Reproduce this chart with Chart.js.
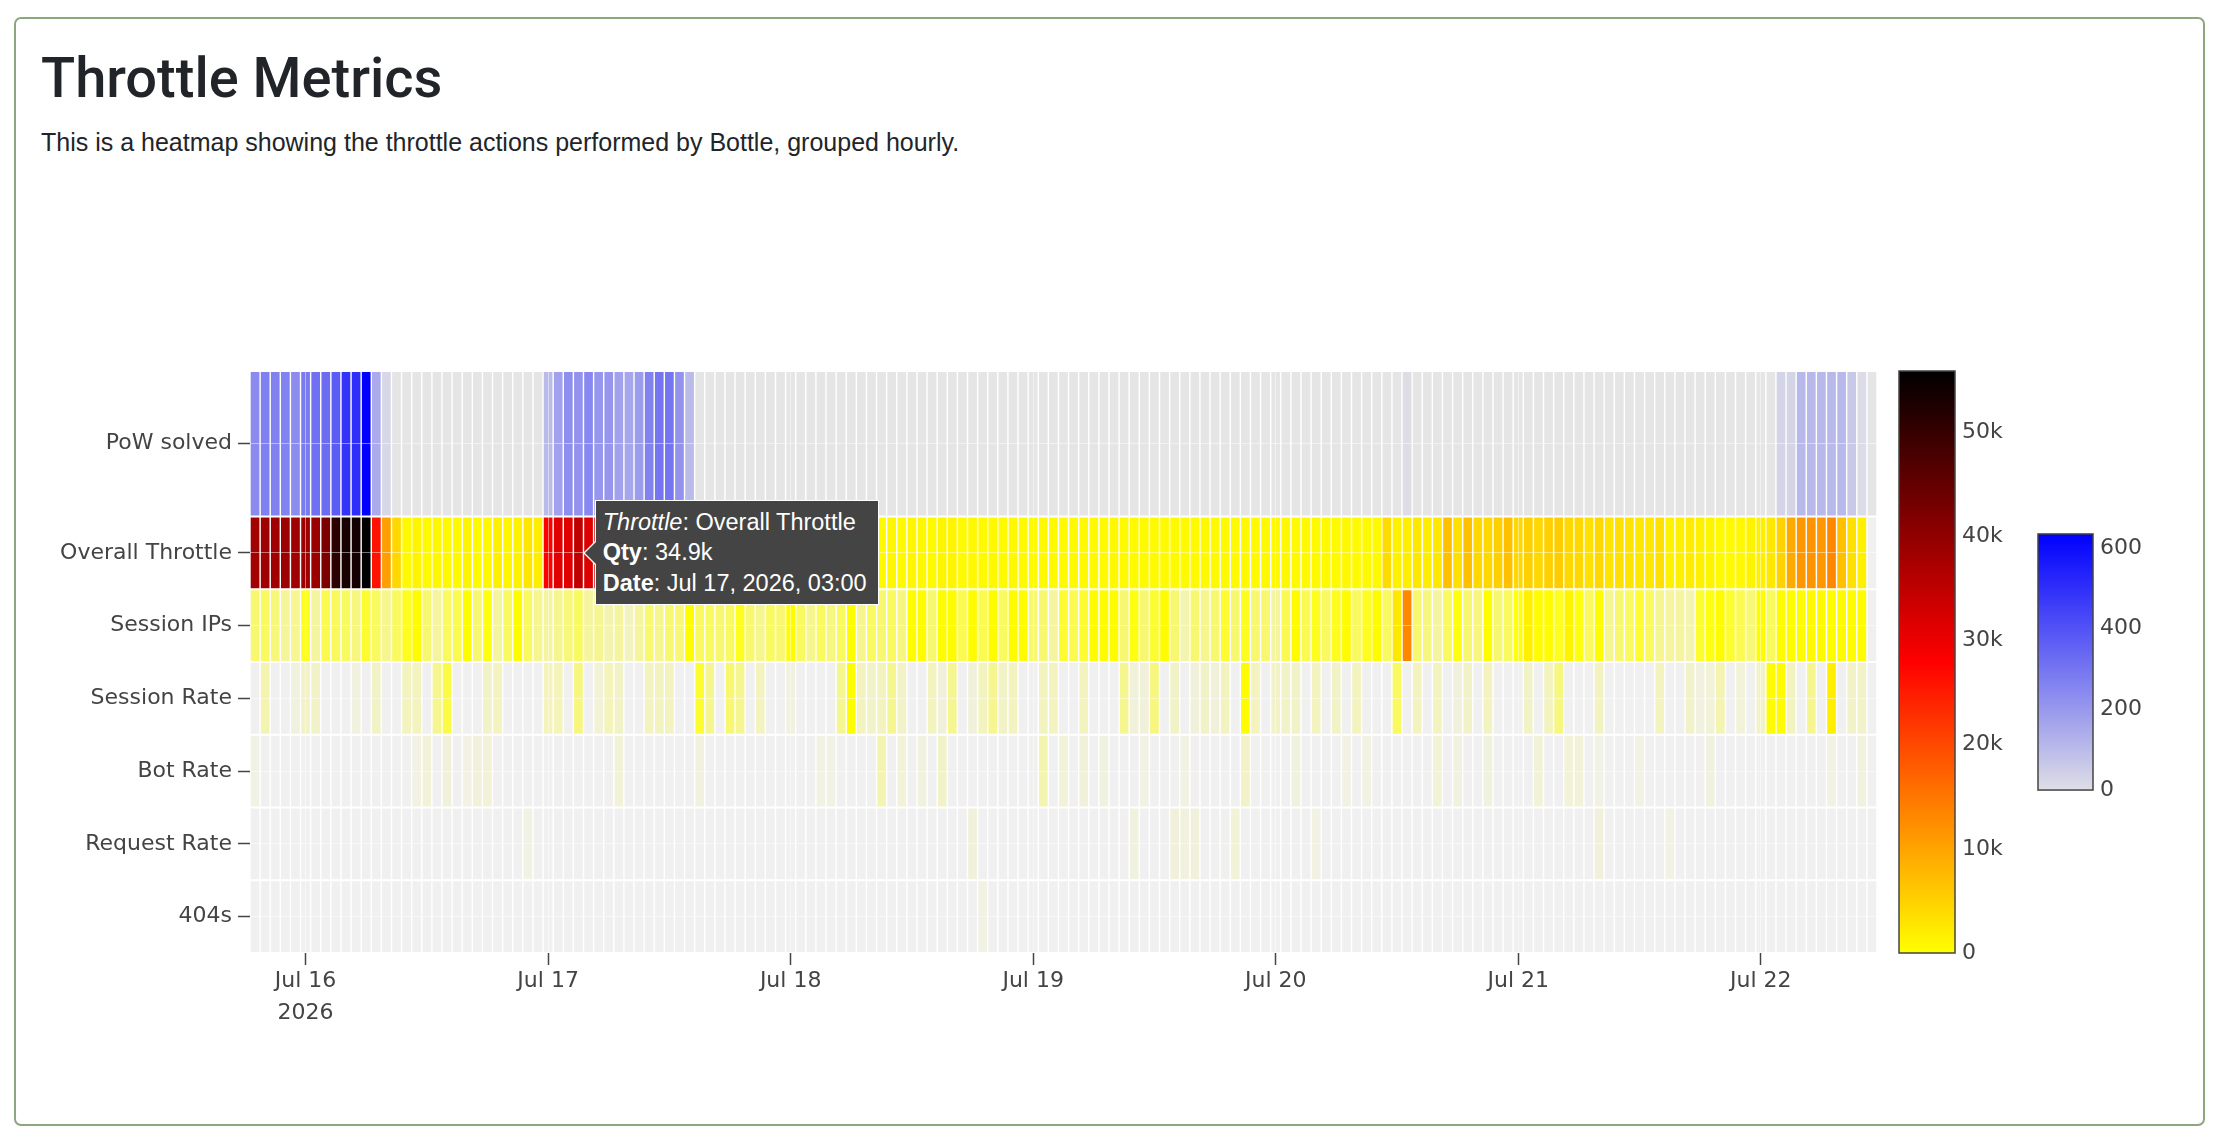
<!DOCTYPE html>
<html>
<head>
<meta charset="utf-8">
<title>Throttle Metrics</title>
<script src="https://cdn.jsdelivr.net/npm/chart.js"></script>
<style>
  html, body { margin: 0; padding: 0; background: #fff; }
  body { width: 2220px; height: 1138px; position: relative; overflow: hidden; }
  .card {
    position: absolute; left: 14px; top: 17px; width: 2191px; height: 1109px;
    box-sizing: border-box; border: 2px solid #8da680; border-radius: 7px;
  }
  h1 {
    position: absolute; left: 41px; top: 45px; margin: 0;
    font: 500 56px/1.2 Roboto, "Liberation Sans", sans-serif; color: #212529;
  }
  p.sub {
    position: absolute; left: 41px; top: 124px; margin: 0;
    font: 25px/1.5 "Liberation Sans", Arial, sans-serif; color: #212529;
  }
  #chart { position: absolute; left: 0; top: 0; }
  #hover {
    position: absolute; display: none; z-index: 5;
    background: #444; color: #fff; border: 1px solid #fff;
    font: 23.5px/30.5px "Liberation Sans", Arial, sans-serif;
    padding: 6px 11px 6px 7px; white-space: nowrap;
  }
  #hover .tip { position: absolute; left: -13px; top: 50%; margin-top: -12px; }
</style>
</head>
<body>
<div class="card"></div>
<h1>Throttle Metrics</h1>
<p class="sub">This is a heatmap showing the throttle actions performed by Bottle, grouped hourly.</p>
<canvas id="chart" width="2220" height="1138"></canvas>
<div id="hover"></div>

<script>
// ---- data --------------------------------------------------------------
// one value per hour, first column is Jul 15 19:00, last is Jul 22 11:00
var rowLabels = ['PoW solved', 'Overall Throttle', 'Session IPs', 'Session Rate', 'Bot Rate', 'Request Rate', '404s'];
var firstHour = -5;                         // hours relative to Jul 16 2026 00:00
var dayTicks = [0, 24, 48, 72, 96, 120, 144];
var hotTicks = [0, 10000, 20000, 30000, 40000, 50000];
var powTicks = [0, 200, 400, 600];

var powSolved = [
  240, 270, 265, 262, 235, 285, 315, 325, 375, 485, 500, 635, 150, 20, 0, 0, 0, 0, 0, 0, 0, 0, 0, 0,
  0, 0, 0, 0, 0, 100, 175, 230, 215, 245, 205, 205, 175, 160, 190, 265, 300, 300, 215, 100, 0, 0, 0, 0,
  0, 0, 0, 0, 0, 0, 0, 0, 0, 0, 0, 0, 0, 0, 0, 0, 0, 0, 0, 0, 0, 0, 0, 0,
  0, 0, 0, 0, 0, 0, 0, 0, 0, 0, 0, 0, 0, 0, 0, 0, 0, 0, 0, 0, 0, 0, 0, 0,
  0, 0, 0, 0, 0, 0, 0, 0, 0, 0, 0, 0, 0, 0, 0, 0, 0, 0, 3, 0, 0, 0, 0, 0,
  0, 0, 0, 0, 0, 0, 0, 0, 0, 0, 0, 0, 0, 0, 0, 0, 0, 0, 0, 0, 0, 0, 0, 0,
  0, 0, 0, 0, 0, 0, 0, 29, 29, 109, 109, 109, 109, 109, 63, 5, 0
];
var overallThrottle = [
  38000, 38500, 38200, 38800, 38400, 38600, 39000, 42200, 51300, 53300, 53700, 55900, 26000, 10400, 4300, 500, 1100, 500, 800, 700, 500, 1200, 600, 800,
  1600, 1000, 1400, 2700, 1900, 28000, 31300, 31300, 34900, 31700, 33000, 30500, 29000, 31000, 33500, 30000, 36000, 37500, 32000, 14000, 1500, 900, 1200, 600,
  900, 600, 700, 1000, 800, 500, 900, 1200, 800, 1000, 700, 900, 600, 1000, 600, 900, 500, 1000, 700, 500, 1100, 1100, 500, 800,
  500, 800, 500, 800, 500, 600, 500, 500, 500, 500, 600, 500, 500, 700, 500, 600, 500, 500, 600, 500, 500, 600, 500, 500,
  500, 500, 500, 600, 500, 500, 700, 500, 500, 600, 500, 500, 700, 500, 600, 500, 4000, 1400, 1900, 2500, 1900, 2500, 6900, 3400,
  6900, 4300, 4300, 5200, 6900, 4300, 5200, 4300, 5200, 5600, 4300, 4300, 3400, 4300, 3000, 3400, 3000, 2500, 2500, 3400, 1400, 1600, 2100, 1600,
  1200, 600, 600, 800, 1200, 1600, 2500, 4900, 9300, 11300, 11700, 11300, 13000, 6900, 3400, 1600, null
];
var sessionIps = [
  114, 144, 97, 50, 60, 300, 44, 178, 150, 144, 87, 256, 144, 64, 144, 300, 450, 114, 44, 144, 178, 450, 114, 348,
  44, 144, 450, 144, 64, 44, 64, 97, 144, 44, 64, 28, 44, 16, 44, 114, 64, 114, 100, 450, 144, 144, 114, 144,
  300, 114, 64, 144, 114, 450, 144, 64, 144, 87, 144, 450, 64, 144, 114, 144, 87, 450, 450, 114, 450, 450, 178, 450,
  178, 450, 144, 450, 450, 114, 114, 44, 256, 178, 256, 450, 450, 450, 114, 348, 114, 256, 450, 114, 28, 114, 64, 114,
  256, 114, 300, 114, 114, 44, 178, 450, 178, 300, 144, 300, 450, 144, 300, 450, 144, 2500, 13000, 114, 87, 44, 144, 348,
  114, 87, 450, 114, 144, 348, 1600, 450, 450, 300, 1200, 348, 144, 450, 64, 114, 144, 256, 144, 64, 44, 44, 28, 256,
  348, 450, 256, 178, 100, 450, 144, 450, 450, 450, 500, 600, 450, 500, 450, 450, null
];
var sessionRate = [
  0, 28, 0, 0, 2, 11, 11, 0, 0, 0, 2, 0, 11, 0, 0, 16, 16, 0, 64, 200, 0, 0, 0, 11,
  16, 0, 0, 0, 0, 20, 20, 0, 87, 0, 4, 20, 11, 0, 0, 16, 16, 16, 0, 0, 256, 64, 0, 114,
  64, 0, 16, 0, 0, 2, 0, 0, 0, 0, 64, 450, 16, 11, 16, 64, 11, 0, 0, 16, 3, 64, 0, 3,
  16, 64, 11, 16, 0, 0, 16, 16, 0, 0, 16, 0, 0, 0, 64, 3, 3, 87, 0, 11, 0, 3, 11, 3,
  16, 0, 450, 16, 0, 11, 11, 11, 0, 16, 0, 11, 0, 16, 0, 0, 0, 144, 0, 16, 0, 16, 0, 3,
  11, 0, 16, 0, 0, 0, 11, 0, 16, 87, 0, 0, 0, 16, 0, 0, 0, 0, 0, 16, 0, 0, 11, 2,
  4, 28, 0, 4, 0, 11, 450, 450, 16, 0, 64, 0, 1900, 0, 11, 11, null
];
var botRate = [
  1, 0, 0, 0, 0, 0, 0, 0, 0, 0, 0, 0, 0, 0, 0, 0, 1, 4, 0, 3, 0, 1, 3, 4,
  0, 0, 0, 0, 0, 0, 0, 0, 0, 0, 0, 0, 4, 0, 0, 0, 0, 0, 0, 0, 2, 0, 0, 0,
  0, 0, 0, 0, 0, 0, 0, 0, 1, 1, 0, 0, 0, 0, 28, 0, 4, 0, 2, 0, 11, 0, 0, 0,
  0, 0, 0, 0, 0, 0, 28, 0, 4, 0, 3, 0, 2, 0, 0, 0, 1, 0, 0, 0, 1, 0, 0, 0,
  0, 0, 11, 0, 0, 0, 0, 2, 0, 0, 0, 0, 1, 0, 1, 0, 0, 0, 0, 0, 0, 4, 0, 2,
  0, 0, 2, 0, 0, 0, 0, 4, 0, 0, 4, 4, 0, 1, 0, 0, 0, 1, 0, 0, 0, 0, 0, 0,
  2, 0, 0, 0, 0, 0, 0, 0, 0, 0, 0, 0, 1, 0, 0, 2, null
];
var requestRate = [
  0, 0, 0, 0, 0, 0, 0, 0, 0, 0, 0, 0, 0, 0, 0, 0, 0, 0, 0, 0, 0, 0, 0, 0,
  0, 0, 0, 1, 0, 0, 0, 0, 0, 0, 0, 0, 0, 0, 0, 0, 0, 0, 0, 0, 0, 0, 0, 0,
  0, 0, 0, 0, 0, 0, 0, 0, 0, 0, 0, 0, 0, 0, 0, 0, 0, 0, 0, 0, 0, 0, 0, 3,
  0, 0, 0, 0, 0, 0, 0, 0, 0, 0, 0, 0, 0, 0, 0, 2, 0, 0, 0, 3, 2, 3, 0, 0,
  0, 4, 0, 0, 0, 0, 0, 0, 0, 1, 0, 0, 0, 0, 0, 0, 0, 0, 0, 0, 0, 0, 0, 0,
  0, 0, 0, 0, 0, 0, 0, 0, 0, 0, 0, 0, 0, 3, 0, 0, 0, 0, 0, 0, 1, 0, 0, 0,
  0, 0, 0, 0, 0, 0, 0, 0, 0, 0, 0, 0, 0, 0, 0, 0, null
];
var notFound = [
  0, 0, 0, 0, 0, 0, 0, 0, 0, 0, 0, 0, 0, 0, 0, 0, 0, 0, 0, 0, 0, 0, 0, 0,
  0, 0, 0, 0, 0, 0, 0, 0, 0, 0, 0, 0, 0, 0, 0, 0, 0, 0, 0, 0, 0, 0, 0, 0,
  0, 0, 0, 0, 0, 0, 0, 0, 0, 0, 0, 0, 0, 0, 0, 0, 0, 0, 0, 0, 0, 0, 0, 0,
  1, 0, 0, 0, 0, 0, 0, 0, 0, 0, 0, 0, 0, 0, 0, 0, 0, 0, 0, 0, 0, 0, 0, 0,
  0, 0, 0, 0, 0, 0, 0, 0, 0, 0, 0, 0, 0, 0, 0, 0, 0, 0, 0, 0, 0, 0, 0, 0,
  0, 0, 0, 0, 0, 0, 0, 0, 0, 0, 0, 0, 0, 0, 0, 0, 0, 0, 0, 0, 0, 0, 0, 0,
  0, 0, 0, 0, 0, 0, 0, 0, 0, 0, 0, 0, 0, 0, 0, 0, null
];

// ---- colour scales ------------------------------------------------------
var series = [powSolved, overallThrottle, sessionIps, sessionRate, botRate, requestRate, notFound];
var hours = powSolved.map(function(_, i) { return firstHour + i; });
var hotMax = Math.max.apply(null, overallThrottle.filter(function(v) { return v != null; }));
var powMax = Math.max.apply(null, powSolved);

var hotStops = [[0, [255, 255, 0]], [0.5, [255, 0, 0]], [1, [0, 0, 0]]];
var powStops = [[0, [222, 222, 230]], [1, [0, 0, 255]]];
var paleLimit = 400;   // very small counts fade out towards the empty-cell grey

function mix(a, b, f) {
  return [0, 1, 2].map(function(k) { return Math.round(a[k] + (b[k] - a[k]) * f); });
}
function rgb(c) { return 'rgb(' + c.join(',') + ')'; }
function scaleColor(stops, t) {
  t = Math.max(0, Math.min(1, t));
  for (var i = 1; i < stops.length; i++) {
    if (t <= stops[i][0]) {
      var f = (t - stops[i - 1][0]) / (stops[i][0] - stops[i - 1][0]);
      return mix(stops[i - 1][1], stops[i][1], f);
    }
  }
  return stops[stops.length - 1][1];
}
function throttleColor(v) {
  if (!v) return 'rgb(240,240,240)';
  if (v < paleLimit) return rgb(mix([240, 240, 240], [255, 255, 0], Math.sqrt(v / paleLimit)));
  return rgb(scaleColor(hotStops, v / hotMax));
}
function powColor(v) {
  if (!v) return 'rgb(229,229,229)';
  return rgb(scaleColor(powStops, v / powMax));
}

// ---- helpers ------------------------------------------------------------
var MONTHS = ['Jan', 'Feb', 'Mar', 'Apr', 'May', 'Jun', 'Jul', 'Aug', 'Sep', 'Oct', 'Nov', 'Dec'];
var origin = Date.UTC(2026, 6, 16);
function hourDate(h) { return new Date(origin + h * 3600000); }
function pad(n) { return (n < 10 ? '0' : '') + n; }
function formatDate(h) {
  var d = hourDate(h);
  return MONTHS[d.getUTCMonth()] + ' ' + d.getUTCDate() + ', ' + d.getUTCFullYear() + ', ' + pad(d.getUTCHours()) + ':00';
}
function formatQty(v) {
  if (v >= 1000) return (v / 1000).toFixed(1).replace(/\.0$/, '') + 'k';
  return String(v);
}

// row bands on the y scale, PoW row is twice as tall
var rowSpan = [2, 1, 1, 1, 1, 1, 1];
var rowTotal = rowSpan.reduce(function(a, b) { return a + b; }, 0);
var bands = [];
rowSpan.reduce(function(upper, s) { bands.push([upper - s, upper]); return upper - s; }, rowTotal);
var rowCenters = bands.map(function(b) { return (b[0] + b[1]) / 2; });
var rowGap = 0.014;

var datasets = series.map(function(values, r) {
  var colorFn = r === 0 ? powColor : throttleColor;
  return {
    label: rowLabels[r],
    stack: 'cells',
    data: hours.map(function(h) { return { x: h, y: [bands[r][0] + rowGap, bands[r][1] - rowGap] }; }),
    backgroundColor: values.map(colorFn),
    borderWidth: 0
  };
});

// ---- hover label (chart.js external tooltip) ---------------------------
function renderHover(context) {
  var tooltip = context.tooltip, chart = context.chart;
  var box = document.getElementById('hover');
  if (!tooltip.opacity || !tooltip.dataPoints || !tooltip.dataPoints.length) {
    box.style.display = 'none';
    return;
  }
  var item = tooltip.dataPoints[0];
  var el = item.element;
  var value = series[item.datasetIndex][item.dataIndex];
  box.innerHTML =
    '<svg class="tip" width="13" height="24" viewBox="0 0 13 24"><path d="M13 0 L1 12 L13 24" fill="#444" stroke="#fff" stroke-width="1.3"/></svg>' +
    '<i>Throttle</i>: ' + item.dataset.label + '<br>' +
    '<b>Qty</b>: ' + formatQty(value) + '<br>' +
    '<b>Date</b>: ' + formatDate(hours[item.dataIndex]);
  box.style.display = 'block';
  var tipX = el.x + el.width / 2;
  var tipY = (el.y + el.base) / 2;
  box.style.left = (chart.canvas.offsetLeft + tipX + 12) + 'px';
  box.style.top = (chart.canvas.offsetTop + tipY - box.offsetHeight / 2) + 'px';
}

// ---- colour bars -------------------------------------------------------
function drawColorbar(ctx, bar) {
  var grad = ctx.createLinearGradient(0, bar.bottom, 0, bar.top);
  bar.stops.forEach(function(s) { grad.addColorStop(s[0], rgb(s[1])); });
  ctx.save();
  ctx.fillStyle = grad;
  ctx.fillRect(bar.left, bar.top, bar.width, bar.bottom - bar.top);
  ctx.strokeStyle = '#444';
  ctx.lineWidth = 1.5;
  ctx.strokeRect(bar.left, bar.top, bar.width, bar.bottom - bar.top);
  ctx.fillStyle = '#444';
  ctx.font = '22px "DejaVu Sans"';
  ctx.textAlign = 'left';
  ctx.textBaseline = 'middle';
  bar.ticks.forEach(function(t) {
    var y = bar.bottom - (t / bar.max) * (bar.bottom - bar.top);
    ctx.fillText(formatQty(t), bar.left + bar.width + 7, y);
  });
  ctx.restore();
}

var colorbarPlugin = {
  id: 'colorbars',
  afterDraw: function(chart) {
    var a = chart.chartArea;
    drawColorbar(chart.ctx, { left: a.right + 22, width: 56, top: a.top, bottom: a.bottom,
      max: hotMax, ticks: hotTicks, stops: hotStops });
    var h = (a.bottom - a.top) * 0.44, mid = (a.top + a.bottom) / 2;
    drawColorbar(chart.ctx, { left: a.right + 161, width: 55, top: mid - h / 2, bottom: mid + h / 2,
      max: powMax, ticks: powTicks, stops: powStops });
  }
};

// ---- chart -------------------------------------------------------------
Chart.defaults.font.family = '"DejaVu Sans", Verdana, sans-serif';
Chart.defaults.font.size = 22;
Chart.defaults.color = '#444';

function axisGrid() {
  return { offset: false, color: 'rgba(255,255,255,0.45)', lineWidth: 1, z: 1, tickColor: '#444', tickLength: 12, tickWidth: 1.5 };
}

var chart = new Chart(document.getElementById('chart'), {
  type: 'bar',
  data: { datasets: datasets },
  options: {
    responsive: false,
    animation: false,
    events: [],
    layout: { padding: { left: 0, top: 371, right: 343, bottom: 105 } },
    datasets: { bar: { categoryPercentage: 1, barPercentage: 0.86 } },
    plugins: {
      legend: { display: false },
      tooltip: { enabled: false, external: renderHover }
    },
    scales: {
      x: {
        type: 'linear',
        offset: false,
        stacked: true,
        min: hours[0] - 0.5,
        max: hours[hours.length - 1] + 0.5,
        grid: axisGrid(),
        border: { display: false },
        ticks: {
          autoSkip: false, maxRotation: 0, padding: 0,
          font: { size: 22, lineHeight: 1.45 },
          callback: function(v) {
            var d = hourDate(v);
            var label = MONTHS[d.getUTCMonth()] + ' ' + d.getUTCDate();
            return v === dayTicks[0] ? [label, String(d.getUTCFullYear())] : label;
          }
        },
        afterBuildTicks: function(scale) { scale.ticks = dayTicks.map(function(v) { return { value: v }; }); },
        afterFit: function(scale) { scale.height = 80; }
      },
      y: {
        type: 'linear',
        offset: false,
        stacked: false,
        min: 0,
        max: rowTotal,
        grid: axisGrid(),
        border: { display: false },
        ticks: {
          padding: 6,
          callback: function(v) { return rowLabels[rowCenters.indexOf(v)]; }
        },
        afterBuildTicks: function(scale) { scale.ticks = rowCenters.map(function(v) { return { value: v }; }); },
        afterFit: function(scale) { scale.width = 250; }
      }
    }
  },
  plugins: [colorbarPlugin]
});

// show the hover label on Overall Throttle, Jul 17 03:00
var hoverIndex = hours.indexOf(27);
var hoverEl = chart.getDatasetMeta(1).data[hoverIndex];
chart.tooltip.setActiveElements([{ datasetIndex: 1, index: hoverIndex }], { x: hoverEl.x, y: hoverEl.y });
</script>
</body>
</html>
